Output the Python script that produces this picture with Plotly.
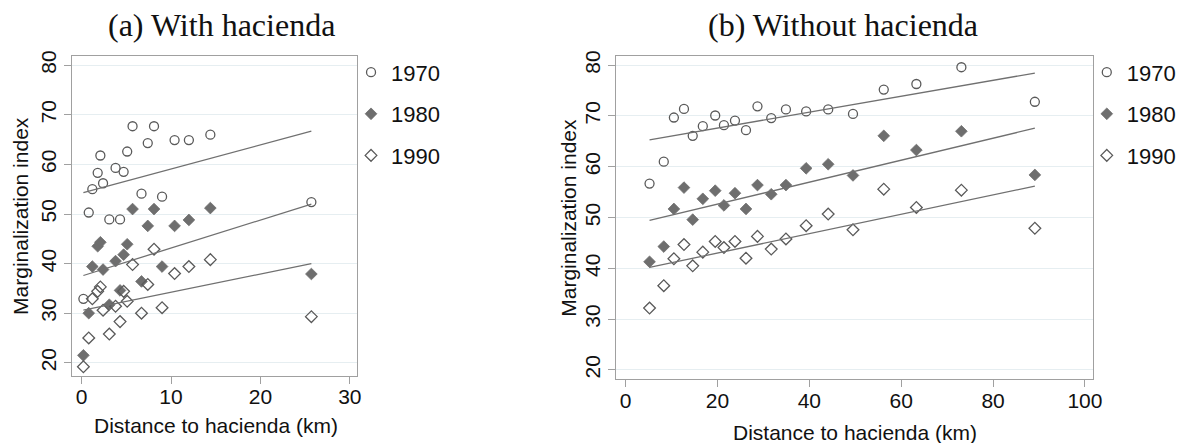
import plotly.graph_objects as go

# ---- Panel (a): municipalities with hacienda ----
dist_a = [0.2, 0.8, 1.2, 1.8, 2.1, 2.4, 3.1, 3.8, 4.3, 4.7,
          5.1, 5.7, 6.7, 7.4, 8.1, 9.0, 10.4, 12.0, 14.4, 25.7]
idx_a_1970 = [32.9, 50.3, 55.0, 58.3, 61.8, 56.2, 48.9, 59.3, 48.9, 58.5,
              62.6, 67.7, 54.1, 64.3, 67.7, 53.5, 64.9, 64.9, 66.0, 52.4]
idx_a_1980 = [21.5, 30.0, 39.4, 43.5, 44.3, 38.8, 31.7, 40.5, 34.6, 41.8,
              43.9, 51.0, 36.4, 47.6, 51.0, 39.4, 47.6, 48.8, 51.2, 37.9]
idx_a_1990 = [19.2, 25.0, 32.9, 34.4, 35.3, 30.6, 25.8, 31.4, 28.3, 34.4,
              32.4, 39.8, 30.0, 35.8, 42.9, 31.1, 38.0, 39.4, 40.8, 29.3]
# fitted values at the ends of the distance range
fit_x_a = [0.2, 25.7]
fit_a_1970 = [54.3, 66.7]
fit_a_1980 = [37.6, 52.0]
fit_a_1990 = [30.6, 40.0]

# ---- Panel (b): municipalities without hacienda ----
dist_b = [5.2, 8.3, 10.5, 12.7, 14.6, 16.8, 19.5, 21.4, 23.8, 26.2,
          28.7, 31.7, 34.9, 39.3, 44.1, 49.5, 56.2, 63.3, 73.1, 89.1]
idx_b_1970 = [56.7, 61.0, 69.7, 71.4, 66.1, 68.0, 70.1, 68.2, 69.1, 67.2,
              71.9, 69.6, 71.3, 70.9, 71.3, 70.4, 75.2, 76.3, 79.6, 72.8]
idx_b_1980 = [41.3, 44.3, 51.7, 55.9, 49.6, 53.7, 55.3, 52.4, 54.8, 51.7,
              56.4, 54.6, 56.4, 59.7, 60.5, 58.3, 66.1, 63.3, 67.0, 58.4]
idx_b_1990 = [32.2, 36.6, 41.9, 44.7, 40.5, 43.2, 45.3, 44.1, 45.3, 42.0,
              46.3, 43.8, 45.8, 48.4, 50.7, 47.6, 55.6, 52.0, 55.4, 47.9]
fit_x_b = [5.2, 89.1]
fit_b_1970 = [65.3, 78.45]
fit_b_1980 = [49.45, 67.6]
fit_b_1990 = [40.2, 56.2]

years = ["1970", "1980", "1990"]
x_ticks_a = [0, 10, 20, 30]
x_ticks_b = [0, 20, 40, 60, 80, 100]
y_ticks = [20, 30, 40, 50, 60, 70, 80]

W, H = 1189, 443
SANS = "Liberation Sans, Arial, sans-serif"
SERIF = "Liberation Serif, Times New Roman, serif"
MARK = "#5a5a5a"
FILL = "#6e6e6e"
LINE = "#707070"
GRID = "#e6eef1"
FRAME = "#a0a0a0"

styles = {
    "1970": dict(symbol="circle-open", size=9, color=MARK, line=dict(width=1.3, color=MARK)),
    "1980": dict(symbol="diamond", size=9, color=FILL, line=dict(width=0.8, color=FILL)),
    "1990": dict(symbol="diamond-open", size=9, color=MARK, line=dict(width=1.3, color=MARK)),
}

fig = go.Figure()

panels = [
    ("x", "y", "legend", dist_a, [idx_a_1970, idx_a_1980, idx_a_1990],
     fit_x_a, [fit_a_1970, fit_a_1980, fit_a_1990]),
    ("x2", "y2", "legend2", dist_b, [idx_b_1970, idx_b_1980, idx_b_1990],
     fit_x_b, [fit_b_1970, fit_b_1980, fit_b_1990]),
]

for xa, ya, leg, dist, series, fx, fits in panels:
    for yr, vals in zip(years, series):
        fig.add_trace(go.Scatter(
            x=dist, y=vals, mode="markers", name=yr,
            marker=styles[yr], xaxis=xa, yaxis=ya,
            legend=leg, legendgroup=leg + yr, showlegend=True,
        ))
    for fv in fits:
        fig.add_trace(go.Scatter(
            x=fx, y=fv, mode="lines", line=dict(color=LINE, width=1.3),
            xaxis=xa, yaxis=ya, showlegend=False, hoverinfo="skip",
        ))

axis_common = dict(
    showline=True, mirror=True, linecolor=FRAME, linewidth=1,
    ticks="outside", ticklen=7, tickcolor=FRAME, tickwidth=1,
    tickfont=dict(family=SANS, size=21, color="#111"),
    zeroline=False,
)

legend_common = dict(
    xanchor="left", yanchor="top",
    font=dict(family=SANS, size=22, color="#111"),
    bgcolor="rgba(0,0,0,0)", itemwidth=30, tracegroupgap=10,
)

fig.update_layout(
    width=W, height=H,
    margin=dict(l=0, r=0, t=0, b=0),
    paper_bgcolor="white", plot_bgcolor="white",
    xaxis=dict(domain=[73 / W, 360 / W], range=[-1.03, 30.8],
               tickvals=x_ticks_a, showgrid=False, anchor="y",
               ticklabelstandoff=-5, **axis_common),
    yaxis=dict(domain=[1 - 375 / H, 1 - 51 / H], range=[17.35, 81.8],
               tickvals=y_ticks, tickangle=-90, showgrid=True, gridcolor=GRID,
               anchor="x", **axis_common),
    xaxis2=dict(domain=[621.7 / W, 1102 / W], range=[-2.0, 101.7],
                tickvals=x_ticks_b, showgrid=False, anchor="y2",
                ticklabelstandoff=-4, **axis_common),
    yaxis2=dict(domain=[1 - 378 / H, 1 - 51 / H], range=[18.25, 81.75],
                tickvals=y_ticks, tickangle=-90, showgrid=True, gridcolor=GRID,
                anchor="x2", **axis_common),
    legend=dict(x=354 / W, y=1 - 46 / H, **legend_common),
    legend2=dict(x=1096 / W, y=1 - 46 / H, **legend_common),
    showlegend=True,
)

annotations = [
    dict(text="(a) With hacienda", x=223.5 / W, y=1 - 19 / H,
         font=dict(family=SERIF, size=32, color="#111")),
    dict(text="(b) Without hacienda", x=850 / W, y=1 - 19 / H,
         font=dict(family=SERIF, size=32, color="#111")),
    dict(text="Distance to hacienda (km)", x=218 / W, y=1 - 425 / H,
         font=dict(family=SANS, size=21, color="#111")),
    dict(text="Distance to hacienda (km)", x=862 / W, y=1 - 432 / H,
         font=dict(family=SANS, size=21, color="#111")),
    dict(text="Marginalization index", x=20 / W, y=1 - 213 / H, textangle=-90,
         font=dict(family=SANS, size=21, color="#111")),
    dict(text="Marginalization index", x=573 / W, y=1 - 214.5 / H, textangle=-90,
         font=dict(family=SANS, size=21, color="#111")),
]
for a in annotations:
    a.update(xref="paper", yref="paper", xanchor="center", yanchor="middle",
             showarrow=False)
fig.update_layout(annotations=annotations)

fig.write_html("out.html")
